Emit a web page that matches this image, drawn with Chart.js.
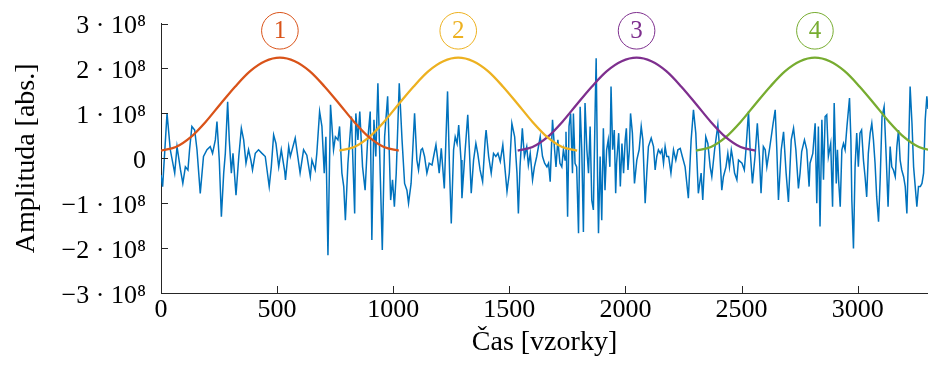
<!DOCTYPE html>
<html><head><meta charset="utf-8">
<script src="https://cdn.jsdelivr.net/npm/chart.js@4.4.0/dist/chart.umd.min.js"></script>
<style>html,body{margin:0;padding:0;background:#fff;}#wrap{width:928px;height:373px;}</style>
</head><body><div id="wrap"><canvas id="c" width="928" height="373"></canvas></div>
<script>
// Signal samples (x in samples, amplitude in units of 10^8)
const sampleX = [0,7,26,40,59,69,84,94,105,116,123,133,145,155,169,183,198,212,222,234,241,251,260,270,277,287,294,303,310,323,335,346,356,366,377,387,394,406,420,435,449,466,475,485,495,507,518,533,
536,550,557,578,599,614,628,643,650,664,671,683,693,703,710,719,730,743,751,762,769,779,787,794,805,820,834,839,848,856,868,879,889,901,908,917,925,934,944,953,963,976,989,997,1005,1013,1026,1038,1049,1059,1066,1077,1092,1102,1109,1116,
1120,1126,1135,1145,1155,1167,1174,1184,1192,1198,1207,1220,1234,1243,1250,1260,1267,1275,1282,1292,1296,1310,1321,1328,1336,1346,1356,1364,1374,1385,1396,1400,1411,1422,1432,1442,1451,1461,1472,1483,1490,1500,1511,1523,1533,1539,1546,1556,1565,1575,1582,1590,1600,1608,1618,1633,1643,1652,1662,1669,1676,
1680,1686,1695,1701,1709,1718,1726,1733,1740,1744,1751,1757,1764,1772,1776,1783,1790,1798,1805,1812,1819,1826,1834,1841,1848,1855,1862,1870,1874,1880,1884,1891,1898,1905,1912,1919,1926,1933,1938,1945,1952,1958,1962,1971,1978,1985,1992,1999,2004,2011,2017,2022,2030,2039,2049,2059,2068,2075,2085,2092,2099,2111,2121,2128,2135,2142,2150,2157,2164,2171,2178,2186,2196,2207,2217,2226,2236,
2245,2257,2271,2283,2293,2303,2314,2326,2333,2340,2346,2355,2365,2372,2384,2398,2405,2415,2422,2433,2441,2448,2456,2461,2470,2480,2487,2502,2512,2519,2530,2537,2547,2558,2568,2577,2584,2594,2602,2609,2620,2628,2636,2645,2652,2659,2671,2681,2692,2702,2714,2724,2734,2745,2752,2759,2771,2781,2791,
2795,2807,2817,2824,2831,2838,2846,2853,2860,2867,2874,2884,2892,2899,2908,2913,2918,2925,2932,2939,2946,2954,2965,2971,2975,2982,2989,2996,3003,3010,3017,3025,3032,3039,3046,3054,3061,3068,3075,3082,3090,3097,3105,3114,3123,3131,3140,3147,3154,3162,3169,3176,3183,3190,3198,3205,3212,3219,3226,3234,3241,3248,3255,3262,3270,3277,3284,3291,3298,3303];
const amplitude = [-0.37,-0.63,1.00,0.19,-0.33,0.26,-0.26,-0.56,-0.19,-0.26,0.19,0.71,0.63,0.19,-0.78,0.04,0.19,0.26,0.11,0.41,0.82,-0.04,-1.30,-0.33,0.11,1.26,0.41,-0.33,0.11,-0.82,0.04,0.67,0.41,-0.11,0.19,-0.04,-0.26,0.11,0.19,0.11,0.04,-0.63,-0.19,0.52,0.33,-0.19,0.19,-0.30,
-0.48,0.26,0.04,0.45,-0.33,0.19,0.07,-0.41,-0.04,-0.26,0.11,1.04,0.71,-0.33,0.48,-2.16,1.19,0.19,0.48,0.41,0.71,-0.33,-0.63,-1.38,-0.11,0.93,-1.23,1.00,0.41,1.04,-0.19,-0.71,0.33,1.04,-1.82,0.86,0.04,1.67,-0.33,-2.04,0.48,1.38,-0.93,-0.48,-1.08,-0.33,1.67,0.41,-0.56,-0.71,-1.00,-0.56,1.00,-0.04,-0.26,0.04,
0.19,0.22,0.04,-0.33,-0.11,-0.15,0.04,0.30,-0.04,-0.33,0.22,-0.67,1.49,-0.33,-1.45,0.19,0.48,0.33,0.74,-0.04,-0.89,0.19,0.97,0.19,-0.78,-0.04,0.33,0.11,-0.26,-0.52,0.41,0.63,0.04,-0.33,0.11,0.04,0.11,-0.07,0.30,-0.33,-0.74,-0.33,0.78,0.48,-0.33,-1.23,-0.19,0.67,0.04,0.26,-0.15,0.11,-0.48,-0.19,0.04,0.48,0.04,-0.11,-0.19,-0.11,-0.52,
0.04,0.86,0.19,-0.19,0.41,-0.11,-0.19,0.19,-0.04,0.59,-1.30,0.71,1.00,-0.33,1.00,-0.11,-0.19,-1.67,1.15,0.19,-1.64,1.23,0.19,-0.33,0.71,-0.93,-1.15,1.19,2.23,-0.41,-1.67,0.04,-1.38,0.67,-0.71,0.19,0.41,-0.19,1.60,0.19,0.63,-0.78,-0.11,0.56,-0.63,0.33,-0.33,0.41,0.67,-0.26,0.19,1.00,0.56,-0.56,-0.04,0.19,0.71,0.41,-1.00,-0.33,0.26,0.45,0.26,-0.26,0.04,0.19,0.11,0.19,-0.11,0.26,0.04,0.04,-0.33,0.19,-0.04,0.19,0.22,
0.04,-0.19,-0.89,0.41,1.08,0.56,-0.78,-0.33,-0.93,-0.19,0.48,0.33,-0.19,-0.41,0.19,0.74,0.26,-0.71,-0.41,-0.19,0.11,-0.19,0.19,0.04,-0.33,-0.48,-0.04,-0.11,-0.26,0.19,1.04,0.19,-0.56,0.04,0.78,0.04,-0.78,0.26,0.19,-0.19,0.19,0.48,0.78,1.08,0.19,-0.93,0.19,0.59,-0.33,-0.97,0.41,0.67,0.19,-0.67,-0.33,0.15,0.41,0.19,-0.63,
-0.11,0.11,0.78,-1.00,0.71,-1.52,0.86,-0.48,0.93,0.97,0.04,0.33,-1.08,1.23,-0.56,0.19,-0.48,-1.08,0.19,0.33,0.19,0.71,1.34,0.41,-0.93,-2.01,-0.19,0.56,-0.19,0.56,0.63,-0.04,-0.41,-0.86,0.11,0.56,0.78,0.41,-0.11,-0.86,-1.41,-0.48,0.93,1.15,0.04,-1.08,0.26,-0.19,-0.26,-0.41,0.26,0.63,-0.04,-0.26,-0.41,-0.63,-1.23,0.11,1.60,0.78,-0.19,-0.63,-1.08,-0.63,-0.63,-0.56,-0.33,0.86,1.38,1.10];

// Analysis windows (shape, units of 10^8)
const windowStarts = [0, 768, 1536, 2304];
const windowShapeX = [0,64,128,192,256,320,384,448,512,576,640,704,768,832,896,960,1024];
const windowShapeY = [0.17,0.25,0.47,0.81,1.21,1.60,1.94,2.16,2.24,2.16,1.94,1.60,1.21,0.81,0.47,0.25,0.17];
const windowLabels = ['1','2','3','4'];
const windowLabelY = 2.84;
const windowColors = ['#D95319','#EDB120','#7E2F8E','#77AC30'];

const xTickValues = [0,500,1000,1500,2000,2500,3000];
const xTickLabels = ['0','500','1000','1500','2000','2500','3000'];
const yTickValues = [-3,-2,-1,0,1,2,3];
const yTickLabels = ['\u22123 \u00B7 10\u2078','\u22122 \u00B7 10\u2078','\u22121 \u00B7 10\u2078','0','1 \u00B7 10\u2078','2 \u00B7 10\u2078','3 \u00B7 10\u2078'];
const xMin = 0, xMax = 3303, yMin = -3, yMax = 3;

const FONT = "'Liberation Serif', 'Times New Roman', serif";

const datasets = [];
windowStarts.forEach((s, i) => {
  datasets.push({
    data: windowShapeX.map((dx, k) => ({x: s + dx, y: windowShapeY[k]})),
    borderColor: windowColors[i], borderWidth: 2.3, pointRadius: 0, tension: 0.4,
    cubicInterpolationMode: 'monotone', order: 1
  });
});
datasets.push({
  data: sampleX.map((x, k) => ({x: x, y: amplitude[k]})),
  borderColor: '#0072BD', borderWidth: 1.5, pointRadius: 0, tension: 0, order: 2
});

const decor = {
  id: 'decor',
  afterDatasetsDraw(chart) {
    const ctx = chart.ctx, xs = chart.scales.x, ys = chart.scales.y, a = chart.chartArea;
    ctx.save();
    ctx.strokeStyle = '#262626'; ctx.lineWidth = 1;
    ctx.beginPath();
    xTickValues.forEach(v => { const p = Math.round(xs.getPixelForValue(v)) + 0.5; ctx.moveTo(p, a.bottom); ctx.lineTo(p, a.bottom - 7); });
    yTickValues.forEach(v => { const p = Math.round(ys.getPixelForValue(v)) + 0.5; ctx.moveTo(a.left, p); ctx.lineTo(a.left + 7, p); });
    ctx.stroke();
    windowStarts.forEach((s, i) => {
      const cx = xs.getPixelForValue(s + windowShapeX[windowShapeX.length - 1] / 2);
      const cy = ys.getPixelForValue(windowLabelY);
      ctx.beginPath(); ctx.arc(cx, cy, 18.3, 0, Math.PI * 2);
      ctx.strokeStyle = windowColors[i]; ctx.lineWidth = 1; ctx.stroke();
      ctx.fillStyle = windowColors[i]; ctx.font = "25px " + FONT;
      ctx.textAlign = 'center'; ctx.textBaseline = 'middle';
      ctx.fillText(windowLabels[i], cx, cy + 1);
    });
    ctx.restore();
  }
};

new Chart(document.getElementById('c'), {
  type: 'line',
  data: { datasets },
  options: {
    responsive: false, animation: false, devicePixelRatio: 1,
    layout: { padding: { top: 23.6, right: 0, left: 0, bottom: 0 } },
    plugins: { legend: { display: false }, tooltip: { enabled: false } },
    scales: {
      x: {
        type: 'linear', min: xMin, max: xMax,
        grid: { display: false, drawTicks: false },
        border: { display: true, color: '#262626', width: 1 },
        afterBuildTicks: s => { s.ticks = xTickValues.map(v => ({ value: v })); },
        afterFit: s => { s.height = 80; s.paddingLeft = 0; s.paddingRight = 0; },
        ticks: { color: '#000', font: { family: FONT, size: 26 }, padding: 2, maxRotation: 0, autoSkip: false,
          callback: v => xTickLabels[xTickValues.indexOf(v)] },
        title: { display: true, text: 'Čas [vzorky]', color: '#000', font: { family: FONT, size: 28, lineHeight: 1.2 }, padding: { top: 0, bottom: 14 } }
      },
      y: {
        type: 'linear', min: yMin, max: yMax,
        grid: { display: false, drawTicks: false },
        border: { display: true, color: '#262626', width: 1 },
        afterBuildTicks: s => { s.ticks = yTickValues.map(v => ({ value: v })); },
        afterFit: s => { s.width = 161; s.paddingTop = 0; s.paddingBottom = 0; },
        ticks: { color: '#000', font: { family: FONT, size: 26 }, padding: 15, labelOffset: 3, autoSkip: false,
          callback: v => yTickLabels[yTickValues.indexOf(v)] },
        title: { display: true, text: 'Amplituda [abs.]', color: '#000', font: { family: FONT, size: 28, lineHeight: 1.2 }, padding: { top: 10, bottom: 0 } }
      }
    }
  },
  plugins: [decor]
});
</script></body></html>
